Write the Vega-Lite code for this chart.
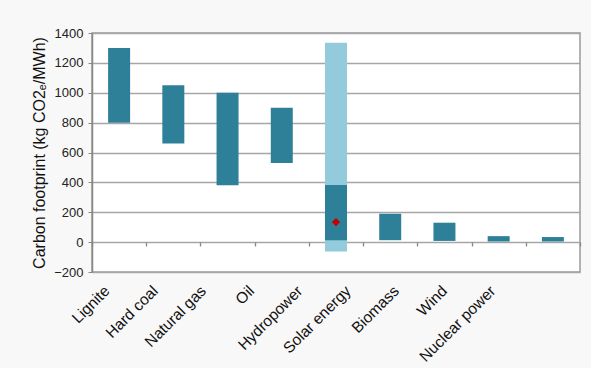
{
  "$schema": "https://vega.github.io/schema/vega-lite/v6.json",
  "width": 488,
  "height": 239,
  "autosize": "none",
  "padding": {"left": 92, "top": 33, "right": 11, "bottom": 96},
  "background": "#f8f8f8",
  "view": {"fill": "white", "stroke": "#9a9a9a", "strokeWidth": 1.5},
  "config": {"font": "Liberation Sans"},
  "datasets": {
    "bars": [
      {"source": "Lignite", "kind": "main", "low": 800, "high": 1300},
      {"source": "Hard coal", "kind": "main", "low": 660, "high": 1050},
      {"source": "Natural gas", "kind": "main", "low": 380, "high": 1000},
      {"source": "Oil", "kind": "main", "low": 530, "high": 900},
      {"source": "Hydropower", "kind": "range", "low": -62, "high": 1335},
      {"source": "Hydropower", "kind": "main", "low": 12, "high": 382},
      {"source": "Solar energy", "kind": "main", "low": 13, "high": 190},
      {"source": "Biomass", "kind": "main", "low": 8, "high": 130},
      {"source": "Wind", "kind": "main", "low": 4, "high": 40},
      {"source": "Nuclear power", "kind": "main", "low": 4, "high": 34}
    ],
    "marker": [
      {"source": "Hydropower", "value": 134}
    ]
  },
  "layer": [
    {
      "data": {"name": "bars"},
      "mark": {"type": "bar", "width": 22},
      "encoding": {
        "x": {
          "field": "source", "type": "nominal", "sort": null,
          "scale": {"type": "band", "domain": ["Lignite", "Hard coal", "Natural gas", "Oil", "Hydropower", "Solar energy", "Biomass", "Wind", "Nuclear power"], "paddingInner": 0, "paddingOuter": 0},
          "axis": {"title": null, "orient": "bottom", "labelAngle": -45, "labelAlign": "right", "labelBaseline": "top", "labelFontSize": 15.5, "labelColor": "#111", "labelPadding": 11, "labelOffset": {"expr": "-17 - 48*datum.index"}, "labelOverlap": false, "ticks": false, "domain": false, "grid": false}
        },
        "y": {
          "field": "low", "type": "quantitative",
          "scale": {"domain": [-200, 1400], "nice": false, "zero": false},
          "axis": {"title": "Carbon footprint (kg CO2ₑ/MWh)", "titleFontSize": 16, "titleFontWeight": "normal", "titleColor": "#111", "titlePadding": 6, "values": [-200, 0, 200, 400, 600, 800, 1000, 1200, 1400], "tickCount": 9, "format": "d", "labelOverlap": false, "labelFontSize": 13, "labelColor": "#222", "labelPadding": 5, "tickSize": 4, "tickColor": "#888", "domainColor": "#888", "domainWidth": 1.5, "gridColor": "#a6a6a6", "gridWidth": 1.3}
        },
        "y2": {"field": "high"},
        "color": {"field": "kind", "type": "nominal", "scale": {"domain": ["range", "main"], "range": ["#93cbdc", "#2e8099"]}, "legend": null}
      }
    },
    {
      "data": {"name": "marker"},
      "mark": {"type": "point", "shape": "diamond", "filled": true, "color": "#c00000", "size": 70, "opacity": 1},
      "encoding": {
        "x": {
          "field": "source", "type": "nominal", "sort": null,
          "scale": {"type": "band", "domain": ["Lignite", "Hard coal", "Natural gas", "Oil", "Hydropower", "Solar energy", "Biomass", "Wind", "Nuclear power"], "paddingInner": 0, "paddingOuter": 0},
          "axis": {"title": null, "orient": "bottom", "offset": -30, "labels": false, "domain": false, "grid": false, "ticks": true, "tickBand": "extent", "tickSize": 4, "tickColor": "#888", "tickWidth": 1.3}
        },
        "y": {
          "field": "value", "type": "quantitative",
          "axis": {"title": "Carbon footprint (kg CO2ₑ/MWh)", "titleFontSize": 16, "titleFontWeight": "normal", "titleColor": "#111", "titlePadding": 6, "values": [-200, 0, 200, 400, 600, 800, 1000, 1200, 1400], "tickCount": 9, "format": "d", "labelOverlap": false, "labelFontSize": 13, "labelColor": "#222", "labelPadding": 5, "tickSize": 4, "tickColor": "#888", "domainColor": "#888", "domainWidth": 1.5, "gridColor": "#a6a6a6", "gridWidth": 1.3}
        }
      }
    }
  ],
  "resolve": {"scale": {"x": "independent"}, "axis": {"x": "independent"}}
}
